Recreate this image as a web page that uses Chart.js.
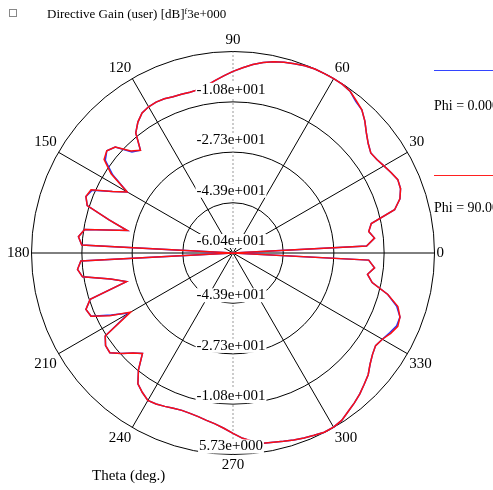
<!DOCTYPE html>
<html>
<head>
<meta charset="utf-8">
<script src="https://cdn.jsdelivr.net/npm/chart.js@4.4.1/dist/chart.umd.min.js"></script>
<style>
  html, body { margin: 0; padding: 0; background: #fff; overflow: hidden; }
  body { width: 493px; height: 490px; position: relative; font-family: 'Liberation Serif', 'Times New Roman', serif; color: #000; }
  #wrap { position: absolute; left: 0; top: 0; width: 493px; height: 490px; }
  .txt { position: absolute; white-space: nowrap; }
  .box { position: absolute; left: 9px; top: 9px; width: 6px; height: 6px; border: 1px solid #888; }
  .leg { position: absolute; left: 434px; width: 70px; height: 0; }
</style>
</head>
<body>
<div id="wrap"><canvas id="polarChart" width="493" height="490"></canvas></div>
<div class="box"></div>
<div class="txt" style="left:47px; top:6px; font-size:13px;">Directive Gain (user) [dB]<span style="font-size:8px; position:relative; top:-4px;">f</span>3e+000</div>
<div class="leg" style="top:70px; border-top:1px solid #3344ff;"></div>
<div class="txt" style="left:434px; top:98px; font-size:14px;">Phi = 0.000 deg</div>
<div class="leg" style="top:175px; border-top:1px solid #ff2020;"></div>
<div class="txt" style="left:434px; top:200px; font-size:14px;">Phi = 90.000 deg</div>
<div class="txt" style="left:92px; top:467px; font-size:15px;">Theta (deg.)</div>
<script>
// theta in degrees, 3 deg step
const thetaDeg = [0, 3, 6, 9, 12, 15, 18, 21, 24, 27,
    30, 33, 36, 39, 42, 45, 48, 51, 54, 57,
    60, 63, 66, 69, 72, 75, 78, 81, 84, 87,
    90, 93, 96, 99, 102, 105, 108, 111, 114, 117,
    120, 123, 126, 129, 132, 135, 138, 141, 144, 147,
    150, 153, 156, 159, 162, 165, 168, 171, 174, 177,
    180, 183, 186, 189, 192, 195, 198, 201, 204, 207,
    210, 213, 216, 219, 222, 225, 228, 231, 234, 237,
    240, 243, 246, 249, 252, 255, 258, 261, 264, 267,
    270, 273, 276, 279, 282, 285, 288, 291, 294, 297,
    300, 303, 306, 309, 312, 315, 318, 321, 324, 327,
    330, 333, 336, 339, 342, 345, 348, 351, 354, 357];

// gain in dB, Phi = 90 deg (red)
const gainPhi90 = [-60.4, -16.5, -13.7, -15.3, -14.0, -5.5, -2.8, -1.5, -1.2, -2.2,
    -3.2, -4.1, -4.5, -3.3, -1.5, 0.8, 2.8, 3.9, 5.1, 5.6,
    5.7, 5.7, 5.7, 5.4, 4.9, 4.4, 3.8, 2.9, 1.8, 0.5,
    -0.8, -2.2, -3.5, -4.8, -5.6, -5.8, -5.6, -5.5, -5.0, -4.8,
    -5.0, -5.6, -7.3, -9.7, -15.0, -13.0, -8.4, -7.1, -8.1, -12.7,
    -20.3, -16.0, -9.4, -8.7, -10.1, -18.3, -24.9, -11.1, -9.4, -10.7,
    -60.4, -10.4, -9.1, -10.4, -19.3, -24.2, -11.1, -8.7, -9.4, -15.0,
    -21.6, -10.4, -8.7, -8.4, -11.1, -14.0, -16.0, -11.1, -7.3, -5.8,
    -4.5, -4.8, -5.3, -5.8, -6.1, -5.9, -5.5, -4.8, -4.0, -2.8,
    -1.2, 0.5, 1.8, 2.8, 3.1, 3.6, 4.1, 4.6, 5.1, 5.6,
    5.6, 5.1, 3.9, 2.9, 1.8, 0.5, -0.7, -2.5, -3.8, -4.6,
    -3.8, -2.3, -1.2, -1.7, -3.5, -7.8, -13.7, -15.7, -13.7, -15.8];

// gain in dB, Phi = 0 deg (blue, mostly hidden under the red one)
const gainPhi0 = [-60.4, -16.5, -13.7, -15.3, -14.0, -5.5, -2.8, -1.5, -1.2, -2.2,
    -3.2, -4.1, -4.5, -3.3, -1.5, 0.8, 2.8, 3.6, 5.1, 5.6,
    5.7, 5.7, 5.7, 5.4, 4.9, 4.4, 3.8, 2.9, 1.8, 0.5,
    -0.8, -2.2, -3.5, -4.8, -5.6, -5.8, -5.6, -5.5, -5.0, -4.8,
    -5.0, -5.6, -7.3, -9.7, -15.0, -13.5, -8.4, -7.1, -8.6, -13.3,
    -20.3, -16.0, -9.8, -8.7, -10.1, -18.3, -24.9, -11.1, -9.4, -10.7,
    -60.4, -10.4, -9.1, -10.4, -19.3, -24.2, -11.1, -8.7, -9.4, -15.6,
    -21.0, -10.4, -8.7, -8.4, -11.1, -14.0, -16.0, -11.1, -7.3, -5.8,
    -4.5, -4.8, -5.3, -5.8, -6.1, -5.9, -5.5, -4.8, -4.0, -2.8,
    -1.2, 0.5, 1.8, 2.8, 3.1, 3.6, 4.1, 4.6, 5.1, 5.6,
    5.6, 5.1, 3.9, 2.9, 1.8, 0.5, -0.7, -2.5, -3.8, -4.6,
    -3.8, -2.7, -1.6, -1.7, -3.9, -7.8, -13.7, -15.7, -13.7, -15.8];

// rings of the radial axis
const ringValues = [-60.4, -43.9, -27.3, -10.8, 5.73];
const ringLabels = ['-6.04e+001', '-4.39e+001', '-2.73e+001', '-1.08e+001', '5.73e+000'];

Chart.defaults.font.family = "'Liberation Serif', 'Times New Roman', serif";
Chart.defaults.color = '#000';

// radar goes clockwise from the top, polar plot goes counter-clockwise from the right
const n = thetaDeg.length;
const order = thetaDeg.map((_, k) => (30 - k + n) % n);
const labels = order.map(j => thetaDeg[j]);

// tick labels: top side shows the lower four, bottom side the upper four
const ringLabelPlugin = {
    id: 'ringLabelPlugin',
    afterDraw(chart) {
        const s = chart.scales.r;
        const ctx = chart.ctx;
        ctx.save();
        ctx.font = "15px 'Liberation Serif', serif";
        ctx.textAlign = 'center';
        ctx.textBaseline = 'middle';
        const put = (text, y) => {
            const w = ctx.measureText(text).width;
            ctx.fillStyle = '#fff';
            ctx.fillRect(s.xCenter - 2 - w / 2 - 1, y - 7, w + 2, 14);
            ctx.fillStyle = '#000';
            ctx.fillText(text, s.xCenter - 2, y);
        };
        ringValues.forEach((v, i) => {
            const d = s.getDistanceFromCenterForValue(v);
            if (i < ringValues.length - 1) put(ringLabels[i], s.yCenter - d - 12);
            if (i > 0) put(ringLabels[i], s.yCenter + d - 8);
        });
        ctx.restore();
    }
};

const isMajor = c => c.label !== '';
const isVertical = c => c.label === '90' || c.label === '270';

new Chart(document.getElementById('polarChart'), {
    type: 'radar',
    data: {
        labels: labels,
        datasets: [{
            label: 'Phi = 90.000 deg',
            data: order.map(j => gainPhi90[j]),
            borderColor: '#ff1010',
            borderWidth: 1.5,
            pointRadius: 0,
            fill: false
        }, {
            label: 'Phi = 0.000 deg',
            data: order.map(j => gainPhi0[j]),
            borderColor: '#2233ff',
            borderWidth: 1.5,
            pointRadius: 0,
            fill: false
        }]
    },
    options: {
        responsive: false,
        animation: false,
        devicePixelRatio: 1,
        layout: { padding: { left: 0, right: 41, top: 27, bottom: 11 } },
        plugins: {
            legend: { display: false },
            tooltip: { enabled: false }
        },
        scales: {
            r: {
                min: ringValues[0],
                max: ringValues[ringValues.length - 1],
                afterBuildTicks: scale => {
                    scale.ticks = ringValues.map(v => ({ value: v }));
                },
                ticks: { display: false },
                grid: { circular: true, color: '#000', lineWidth: 1 },
                angleLines: {
                    display: true,
                    lineWidth: c => isMajor(c) ? 1 : 0,
                    color: c => isVertical(c) ? '#9a9a9a' : '#000',
                    borderDash: c => isVertical(c) ? [2, 2] : []
                },
                pointLabels: {
                    padding: 2,
                    font: { size: 15 },
                    color: '#000',
                    callback: label => label % 30 === 0 ? String(label) : ''
                }
            }
        }
    },
    plugins: [ringLabelPlugin]
});
</script>
</body>
</html>
